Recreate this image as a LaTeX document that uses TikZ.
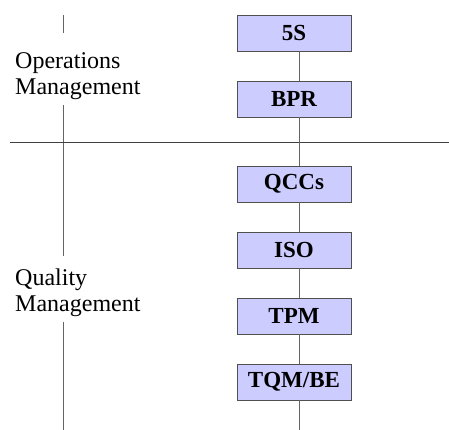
\documentclass[tikz,border=0pt]{standalone}
\usepackage{fontspec}
\setmainfont{Liberation Serif}
\usepackage{tikz}
\usetikzlibrary{positioning, calc}
\definecolor{boxfill}{RGB}{204,204,255}
\definecolor{boxline}{RGB}{80,80,80}
\definecolor{axisline}{RGB}{100,100,100}

\begin{document}
\begin{tikzpicture}[
        x=1pt, y=1pt,
        node distance=66pt,
        box/.style={draw=boxline, fill=boxfill, line width=0.8pt, align=center, minimum width=114pt, minimum height=36pt, inner sep=0pt, font=\fontsize{23}{26}\selectfont\bfseries},
        grouptext/.style={align=left, anchor=west, inner sep=0pt, font=\rmfamily\fontsize{24}{26}\selectfont},
        line/.style={draw=axisline, line width=0.8pt}
    ]
        \useasboundingbox (0,0) rectangle (449,-430);

        % boxes
        \node[box] (fives) at (294,-33) {5S};
        \node[box, below of=fives] (bpr) {BPR};
        \node[box, below of=bpr, yshift=-19pt] (qccs) {QCCs};
        \node[box, below of=qccs] (iso) {ISO};
        \node[box, below of=iso] (tpm) {TPM};
        \node[box, below of=tpm] (tqm) {TQM/BE};

        % group labels
        \node[grouptext] (ops) at (15,-76) {Operations\\Management};
        \node[grouptext] (qual) at (15,-293) {Quality\\Management};

        % left axis
        \coordinate (axtop) at (63,-15);
        \coordinate (axa) at (63,-33);
        \coordinate (axb) at (63,-105);
        \coordinate (axc) at (63,-256);
        \coordinate (axd) at (63,-322);
        \coordinate (axbot) at (63,-430);
        \draw[line] (axtop) -- (axa);
        \draw[line] (axb) -- (axc);
        \draw[line] (axd) -- (axbot);

        % divider
        \coordinate (divl) at (10,-142);
        \coordinate (divr) at (449,-142);
        \draw[line, draw=black!75] (divl) -- (divr);

        % chain
        \draw[line] ([xshift=5pt]fives.south) -- ([xshift=5pt]bpr.north);
        \draw[line] ([xshift=5pt]bpr.south) -- ([xshift=5pt]qccs.north);
        \draw[line] ([xshift=5pt]qccs.south) -- ([xshift=5pt]iso.north);
        \draw[line] ([xshift=5pt]iso.south) -- ([xshift=5pt]tpm.north);
        \draw[line] ([xshift=5pt]tpm.south) -- ([xshift=5pt]tqm.north);
        \coordinate (chainend) at (299,-430);
        \draw[line] ([xshift=5pt]tqm.south) -- (chainend);
    \end{tikzpicture}
\end{document}
